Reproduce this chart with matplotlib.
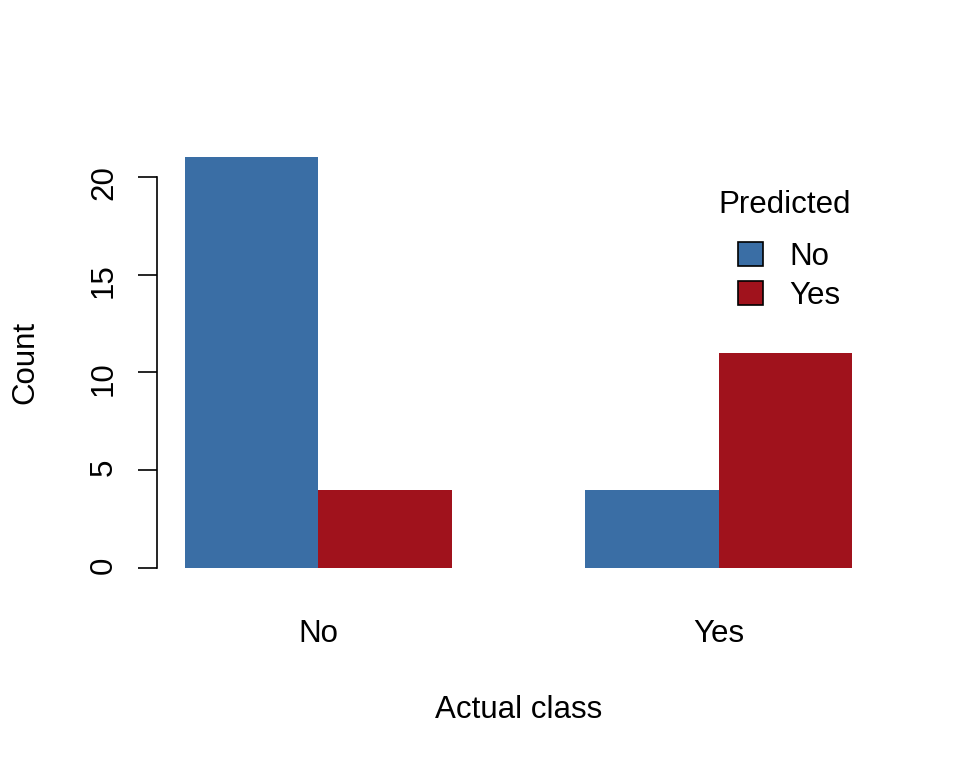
import numpy as np
import matplotlib
matplotlib.use("Agg")
import matplotlib.pyplot as plt

plt.rcParams['font.family'] = ['Liberation Sans', 'DejaVu Sans']

actual = ["No", "Yes"]
predicted = ["No", "Yes"]
counts = [[21, 4],   # predicted No  (actual No, actual Yes)
          [4, 11]]   # predicted Yes
colors = ["#3A6EA5", "#A0121C"]
yticks = [0, 5, 10, 15, 20]

fs = 22.5
fig = plt.figure(figsize=(9.6, 7.68), dpi=100)
ax = fig.add_axes([158/960, 1-584.4/768, (879-158)/960, (584.4-141)/768])

# R barplot positions: beside, space=c(0,1)
group_left = np.array([1.0, 4.0])
for i, lab in enumerate(predicted):
    ax.bar(group_left + i, counts[i], width=1.0, align='edge', color=colors[i],
           linewidth=0, label=lab)

ax.set_xlim(0.8, 6.2)
ax.set_ylim(-0.84, 21.84)
ax.set_xticks(group_left + 1)
ax.set_xticklabels(actual)
ax.tick_params(axis='x', length=0, pad=25, labelsize=fs)
ax.set_yticks(yticks)
ax.tick_params(axis='y', length=14, width=1.2, pad=13, labelsize=fs, labelrotation=90)
for t in ax.get_yticklabels():
    t.set_va('center')
for s in ['top', 'right', 'bottom']:
    ax.spines[s].set_visible(False)
ax.spines['left'].set_bounds(0, 20)
ax.spines['left'].set_linewidth(1.2)
ax.spines['left'].set_position(('outward', 1))

ax.set_xlabel("Actual class", fontsize=fs, labelpad=33)
ax.set_ylabel("Count", fontsize=fs, va='center')
ax.yaxis.set_label_coords((25-158)/721, 0.5)

boxes = [plt.Rectangle((0, 0), 1, 1, facecolor=c, edgecolor='black', linewidth=1.2) for c in colors]
leg = ax.legend(handles=boxes, labels=predicted, fontsize=fs,
                frameon=False, handlelength=0.8, handleheight=0.8, handletextpad=0.85,
                labelspacing=0.29, loc='upper left',
                bbox_to_anchor=(738/960, 1-242/768), bbox_transform=fig.transFigure,
                borderpad=0, borderaxespad=0)
fig.text(785/960, 1-205/768, "Predicted", fontsize=fs, ha='center', va='center')

fig.savefig("out.png", dpi=100)
